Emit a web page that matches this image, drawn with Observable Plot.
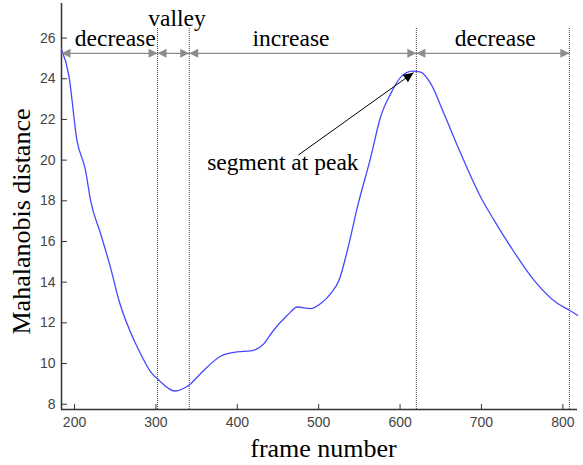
<!DOCTYPE html>
<html><head><meta charset="utf-8">
<script src="https://cdn.jsdelivr.net/npm/d3@7"></script>
<script src="https://cdn.jsdelivr.net/npm/@observablehq/plot@0.6"></script>
<style>body{margin:0;background:#fff}</style>
</head><body><div id="chart"></div>
<script>
// ---- data ----
const frames = [184,193,203,213.5,219.7,232,244,254.5,275,281,293.5,303.7,323,340.5,355,379.5,400,416.4,432.8,443,461.5,473.8,490,502.5,514.8,525,535.3,547.6,564,576,588.5,600.8,615.2,625.4,637.7,654,674.6,699,715.6,736,764.7,793.5,808.2,818];
const distances = [25.45,24.17,20.97,19.5,18.02,16.39,14.75,13.11,10.98,10.49,9.59,9.18,8.65,8.93,9.51,10.36,10.57,10.62,10.98,11.55,12.37,12.78,12.7,12.95,13.44,14.09,15.57,17.7,20.15,22.12,23.27,24.08,24.38,24.33,23.76,22.28,20.32,18.19,17.04,15.73,14.09,12.95,12.62,12.37];
const xTicks = [200,300,400,500,600,700,800];
const yTicks = [8,10,12,14,16,18,20,22,24,26];
const segStart = [184,302,341,620];
const segEnd = [302,341,620,808];
const boundaries = [302,341,620,808];
const segLabels = ["decrease","valley","increase","decrease"];
const segLabelX = [250,326,466,717];
const segLabelY = [25.96,26.94,25.96,25.96];
const arrowRowY = 25.25;
const boundaryTop = 26.5;
const peakText = "segment at peak";
const peakTextX = 363, peakTextY = 19.87;
const peakTail = [475, 20.25], peakTip = [616.5, 24.3];
const xDomain = [184, 818], yDomain = [7.74, 27.7];
const xLabel = "frame number", yLabel = "Mahalanobis distance";

// ---- layout ----
const W = 583, H = 465, ML = 61, MR = 6, MT = 3, MB = 56;
const curve = frames.map((f, i) => ({frame: f, dist: distances[i]}));
const gray = "#8c8c8c";
const serif = "Liberation Serif, Times New Roman, serif";

const triLeft = {draw(c){ c.moveTo(0,0); c.lineTo(9,-4.5); c.lineTo(9,4.5); c.closePath(); }};
const triRight = {draw(c){ c.moveTo(0,0); c.lineTo(-9,-4.5); c.lineTo(-9,4.5); c.closePath(); }};

const sx = Plot.scale({x: {domain: xDomain, range: [ML, W - MR]}});
const sy = Plot.scale({y: {domain: yDomain, range: [H - MB, MT]}});
const ang = Math.atan2(sy.apply(peakTip[1]) - sy.apply(peakTail[1]), sx.apply(peakTip[0]) - sx.apply(peakTail[0]));
const headSym = {draw(c){
  const L = 10, w = 4.5, co = Math.cos(ang), si = Math.sin(ang);
  c.moveTo(0,0);
  c.lineTo(-L*co + w*si, -L*si - w*co);
  c.lineTo(-L*co - w*si, -L*si + w*co);
  c.closePath();
}};
const tickShape = {draw(c, l){ c.moveTo(0,0); c.lineTo(0,-l); }};

const chart = Plot.plot({
  width: W, height: H,
  marginLeft: ML, marginRight: MR, marginTop: MT, marginBottom: MB,
  x: {domain: xDomain, label: null},
  y: {domain: yDomain, label: null},
  style: {background: "#fff", overflow: "visible"},
  marks: [
    Plot.axisX(xTicks, {tickSize: 0, tickPadding: 8, fontSize: 14, fontFamily: "Liberation Sans, Arial, sans-serif", color: "#444", label: null}),
    Plot.axisY(yTicks, {tickSize: 0, tickPadding: 6, fontSize: 14, fontFamily: "Liberation Sans, Arial, sans-serif", color: "#444", label: null}),
    Plot.vector(xTicks, {x: d => d, y: () => yDomain[0], length: 5, rotate: 0, anchor: "start", shape: tickShape, stroke: "#333", strokeWidth: 1}),
    Plot.vector(yTicks, {x: () => xDomain[0], y: d => d, length: 5, rotate: 90, anchor: "start", shape: tickShape, stroke: "#333", strokeWidth: 1}),
    Plot.ruleY([yDomain[0]], {stroke: "#333", strokeWidth: 1.5}),
    Plot.ruleX([xDomain[0]], {stroke: "#333", strokeWidth: 1.5}),
    Plot.ruleX(boundaries, {x: d => d, y1: () => yDomain[0], y2: () => boundaryTop, stroke: "#444", strokeWidth: 1, strokeDasharray: "1,1"}),
    Plot.line(curve, {x: "frame", y: "dist", stroke: "#4848ff", strokeWidth: 1.3, curve: "monotone-x"}),
    Plot.link(segStart.map((s, i) => ({s, e: segEnd[i]})), {x1: "s", x2: "e", y1: () => arrowRowY, y2: () => arrowRowY, stroke: gray, strokeWidth: 1.3}),
    Plot.dot(segStart, {x: d => d, y: () => arrowRowY, symbol: triLeft, fill: gray}),
    Plot.dot(segEnd, {x: d => d, y: () => arrowRowY, symbol: triRight, fill: gray}),
    Plot.text(segLabels, {x: (d, i) => segLabelX[i], y: (d, i) => segLabelY[i], text: d => d, fontSize: 23.5, fontFamily: serif, fill: "#000"}),
    Plot.link([{x1: peakTail[0], y1: peakTail[1], x2: peakTip[0], y2: peakTip[1]}], {x1: "x1", y1: "y1", x2: "x2", y2: "y2", stroke: "#000", strokeWidth: 1}),
    Plot.dot([peakTip], {x: d => d[0], y: d => d[1], symbol: headSym, fill: "#000"}),
    Plot.text([peakText], {x: () => peakTextX, y: () => peakTextY, text: d => d, textAnchor: "start", fontSize: 23.5, fontFamily: serif, fill: "#000"}),
    Plot.text([xLabel], {frameAnchor: "bottom", dx: 4, dy: 39, lineAnchor: "middle", textAnchor: "middle", text: d => d, fontSize: 26, fontFamily: serif, fill: "#000"}),
    Plot.text([yLabel], {frameAnchor: "left", dx: -40, dy: 15, rotate: -90, lineAnchor: "middle", textAnchor: "middle", text: d => d, fontSize: 26, fontFamily: serif, fill: "#000"})
  ]
});
document.getElementById("chart").appendChild(chart);
</script>
</body></html>
